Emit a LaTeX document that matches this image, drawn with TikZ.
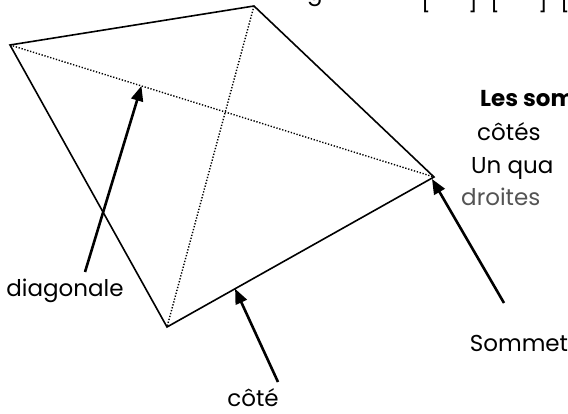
\documentclass[tikz,border=0pt]{standalone}
\usepackage{fontspec}
\setmainfont{Poppins}
\usetikzlibrary{calc, positioning, arrows.meta}
\definecolor{softgray}{gray}{0.33}

\tikzset{
  side/.style={line width=1.6pt, line join=miter},
  diag/.style={line width=1.4pt, dash pattern=on 1.3pt off 1.7pt},
  pointer/.style={line width=2.6pt, -{Triangle[length=15pt,width=12pt]}},
  lbltext/.style={font=\fontsize{23}{27}\selectfont, inner sep=0pt, anchor=base},
  sidetext/.style={font=\fontsize{23}{27}\selectfont, inner sep=0pt, anchor=base west}
}

\begin{document}
\begin{tikzpicture}[x=1pt,y=-1pt]
    \useasboundingbox (0,0) rectangle (568,414);

      % the quadrilateral and its diagonals
      \coordinate (A) at (10,45);
      \coordinate (B) at (254,6);
      \coordinate (C) at (434,177);
      \coordinate (D) at (167,327);
      \draw[side] (A) -- (B) -- (C) -- (D) -- cycle;
      \draw[diag] (A) -- (C);
      \draw[diag] (B) -- (D);

      % labels
      \node[lbltext] (diagonale) at (65,297) {diagonale};
      \node[lbltext] (cote)      at (253,406) {côté};
      \node[lbltext] (sommet)    at (519,352) {Sommet};

      % arrows
      \coordinate (p_diag) at ($(A)!0.31!(C)$);
      \coordinate (p_cote) at ($(D)!0.255!(C)$);
      \coordinate (t_diag) at (85,272);
      \coordinate (t_cote) at (278,382);
      \coordinate (t_som)  at (504,303);
      \draw[pointer] (t_diag) -- (p_diag);
      \draw[pointer] (t_cote) -- (p_cote);
      \draw[pointer] (t_som) -- ([shift={(-2pt,-2pt)}]C);

      % text running off the page
      \node[sidetext, font=\fontsize{23}{27}\selectfont\bfseries] (txt1) at (480,107) {Les som};
      \node[sidetext] (txt2) at (477,141) {côtés};
      \node[sidetext] (txt3) at (471,174) {Un qua};
      \node[sidetext, text=softgray] (txt4) at (461,206) {droites};

      % bottom of the line above
      \node[lbltext] (frag_g) at (315,1) {g};
      \foreach \x/\b [count=\i] in {426/{[},473/{]},495/{[},543/{]},565/{[}}
        \node[lbltext] (frag_\i) at (\x,9) {\b};
\end{tikzpicture}
\end{document}
